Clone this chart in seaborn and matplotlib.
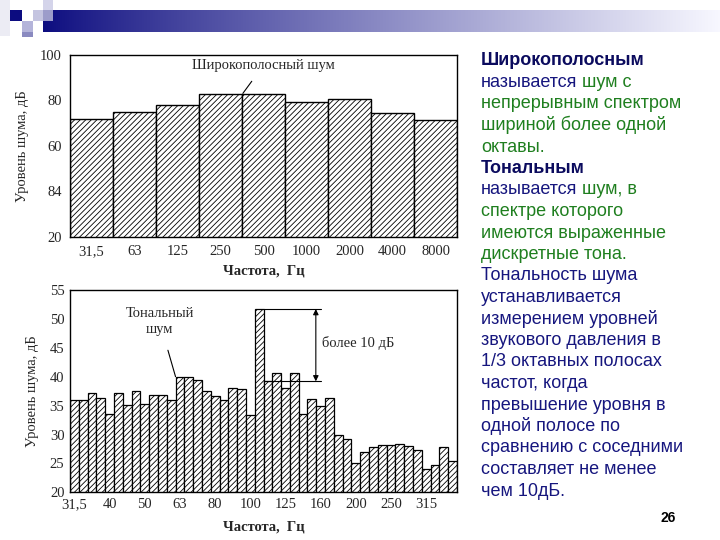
import matplotlib
matplotlib.use("Agg")
import matplotlib.pyplot as plt
import matplotlib.patches as mpatches
from matplotlib.text import Annotation
import numpy as np
import pandas as pd
import seaborn as sns

# ---------------- data ----------------
top_freqs = ["31,5", "63", "125", "250", "500", "1000", "2000", "4000", "8000"]
top_levels = [71.7, 74.8, 77.9, 82.8, 82.8, 79.5, 80.8, 74.6, 71.4]
top_yticks = [20, 40, 60, 80, 100]
top_yticklabels = ["20", "84", "60", "80", "100"]

bottom_bands = list(range(44))
bottom_levels = [36.0, 36.0, 37.2, 36.3, 33.5, 37.2, 35.1, 37.5, 35.3, 36.9,
                 36.9, 36.0, 40.0, 40.0, 39.4, 37.5, 36.6, 36.0, 38.1, 37.8,
                 33.4, 51.7, 39.2, 40.6, 38.0, 40.6, 33.6, 36.1, 35.0, 36.4,
                 30.0, 29.2, 25.1, 26.9, 27.9, 28.2, 28.2, 28.3, 28.0, 27.4,
                 24.0, 24.7, 27.9, 25.4]
bottom_tick_pos = list(range(0, 44, 4))
bottom_tick_labels = ["31,5", "40", "50", "63", "80", "100", "125", "160", "200", "250", "315"]
bottom_yticks = [20, 25, 30, 35, 40, 45, 50, 55]

xlabel = "Частота,  Гц"
ylabel = "Уровень шума, дБ"

NAVY = "#16167e"
DARK = "#0b0b5e"
GREEN = "#1f7f1f"

# text block: list of lines, each list of (text, color, bold)
text_lines = [
    [("Широкополосным", DARK, True)],
    [("называется", NAVY, False), (" шум с", GREEN, False)],
    [("непрерывным спектром", GREEN, False)],
    [("шириной более одной", GREEN, False)],
    [("октавы.", GREEN, False)],
    [("Тональным", DARK, True)],
    [("называется", NAVY, False), (" шум, в", GREEN, False)],
    [("спектре которого", GREEN, False)],
    [("имеются выраженные", GREEN, False)],
    [("дискретные тона.", GREEN, False)],
    [("Тональность шума", NAVY, False)],
    [("устанавливается", NAVY, False)],
    [("измерением уровней", NAVY, False)],
    [("звукового давления в", NAVY, False)],
    [("1/3 октавных полосах", NAVY, False)],
    [("частот, когда", NAVY, False)],
    [("превышение уровня в", NAVY, False)],
    [("одной полосе по", NAVY, False)],
    [("сравнению с соседними", NAVY, False)],
    [("составляет не менее", NAVY, False)],
    [("чем 10дБ.", NAVY, False)],
]

# ---------------- style ----------------
sns.set_style("white")
plt.rcParams["font.family"] = ["Liberation Serif", "DejaVu Serif"]
plt.rcParams["hatch.linewidth"] = 0.6
plt.rcParams["hatch.color"] = "black"

W, H = 720, 540
fig = plt.figure(figsize=(7.2, 5.4), dpi=100)
fig.patch.set_facecolor("white")

def fx(px):
    return px / W

def fy(py):
    return 1 - py / H

# ---------------- banner decoration ----------------
bax = fig.add_axes([fx(43), fy(32), fx(720 - 43), 22 / H])
grad = np.linspace(0, 1, 400) ** 0.9
navy = np.array([0.05, 0.05, 0.50])
white = np.array([0.97, 0.97, 1.0])
img = navy[None, :] * (1 - grad[:, None]) + white[None, :] * grad[:, None]
bax.imshow(img[None, :, :], aspect="auto", extent=[0, 1, 0, 1])
bax.set_axis_off()

def sq(x0, y0, x1, y1, c):
    fig.add_artist(mpatches.Rectangle((fx(x0), fy(y1)), fx(x1 - x0), (y1 - y0) / H,
                                      transform=fig.transFigure, color=c, lw=0, zorder=5))

sq(0, 0, 10, 36, "#ececf4")
sq(10, 10, 22, 21, "#0c0c80")
sq(33, 10, 43, 21, "#c4c4e0")
sq(43, 0, 53, 10, "#d4d4ea")
sq(43, 10, 53, 21, "#9c9cca")
sq(22, 21, 33, 32, "#b4b4da")
sq(22, 32, 33, 37, "#8a8ac0")

TICK_FS = 10.5

# ---------------- top chart ----------------
ax1 = fig.add_axes([fx(70), fy(236.7), fx(387), 181.7 / H])
df_top = pd.DataFrame({"freq": top_freqs, "level": top_levels})
sns.barplot(data=df_top, x="freq", y="level", order=top_freqs, width=1.0,
            color="white", saturation=1, edgecolor="black", linewidth=1.0, ax=ax1)
for p in ax1.patches:
    p.set_hatch("//////")
ax1.set_xlim(-0.5, len(top_freqs) - 0.5)
ax1.set_ylim(20, 100)
ax1.set_yticks(top_yticks)
ax1.set_yticklabels(top_yticklabels)
ax1.set_xlabel(xlabel, fontsize=10.5, fontweight="bold", labelpad=5)
ax1.set_ylabel(ylabel, fontsize=10.5, labelpad=8)
ax1.tick_params(axis="both", length=0, labelsize=TICK_FS, pad=6)
for s in ax1.spines.values():
    s.set_color("black")
    s.set_linewidth(1.0)
ax1.annotate("Широкополосный шум", xy=(3.52, 83.1), xytext=(3.99, 95.2),
             ha="center", va="center", fontsize=10.5,
             arrowprops=dict(arrowstyle="-", color="black", lw=0.8, shrinkA=5, shrinkB=0))

# ---------------- bottom chart ----------------
ax2 = fig.add_axes([fx(70), fy(492.3), fx(387), 202.3 / H])
df_bot = pd.DataFrame({"band": bottom_bands, "level": bottom_levels})
sns.barplot(data=df_bot, x="band", y="level", order=bottom_bands, width=1.0,
            color="white", saturation=1, edgecolor="black", linewidth=0.9, ax=ax2)
for p in ax2.patches:
    p.set_hatch("//////")
ax2.set_xlim(-0.5, len(bottom_bands) - 0.5)
ax2.set_ylim(20, 55)
ax2.set_yticks(bottom_yticks)
ax2.set_xticks(bottom_tick_pos)
ax2.set_xticklabels(bottom_tick_labels)
ax2.set_xlabel(xlabel, fontsize=10.5, fontweight="bold", labelpad=7)
ax2.set_ylabel(ylabel, fontsize=10.5, labelpad=8)
ax2.tick_params(axis="both", length=0, labelsize=TICK_FS, pad=4)
for s in ax2.spines.values():
    s.set_color("black")
    s.set_linewidth(1.0)

ax2.annotate("Тональный\nшум", xy=(11.5, 40.0), xytext=(9.7, 49.5),
             ha="center", va="center", fontsize=10.5, linespacing=1.3,
             arrowprops=dict(arrowstyle="-", color="black", lw=0.8, shrinkA=8, shrinkB=0))
peak = max(bottom_levels)
ref = bottom_levels[22]
ax2.plot([21.5, 28.0], [peak, peak], color="black", lw=0.8)
ax2.plot([21.5, 28.0], [ref, ref], color="black", lw=0.8)
ax2.annotate("", xy=(27.45, ref), xytext=(27.45, peak),
             arrowprops=dict(arrowstyle="<|-|>", color="black", lw=0.8,
                             mutation_scale=8, shrinkA=0, shrinkB=0))
ax2.text(28.2, 45.8, "более 10 дБ", ha="left", va="center", fontsize=10.5)

# ---------------- right text ----------------
TXT_FS = 13
SANS = ["Liberation Sans", "DejaVu Sans"]
y0 = 65.5
dy = 21.5
for i, line in enumerate(text_lines):
    txt, col, bold = line[0]
    base = fig.text(fx(481), fy(y0 + i * dy), txt, fontsize=TXT_FS, color=col,
                    fontweight="bold" if bold else "normal", family=SANS,
                    va="baseline", ha="left")
    for (txt2, col2, bold2) in line[1:]:
        ann = Annotation(txt2, xy=(1, 0), xycoords=base, xytext=(0, 0),
                         textcoords="offset points", va="bottom", ha="left",
                         fontsize=TXT_FS, color=col2,
                         fontweight="bold" if bold2 else "normal", family=SANS)
        fig.add_artist(ann)
        base = ann

fig.text(fx(668), fy(518), "26", fontsize=10, fontweight="bold", color="black",
         family=SANS, ha="center", va="center")

fig.savefig("out.png", dpi=100, facecolor="white")
